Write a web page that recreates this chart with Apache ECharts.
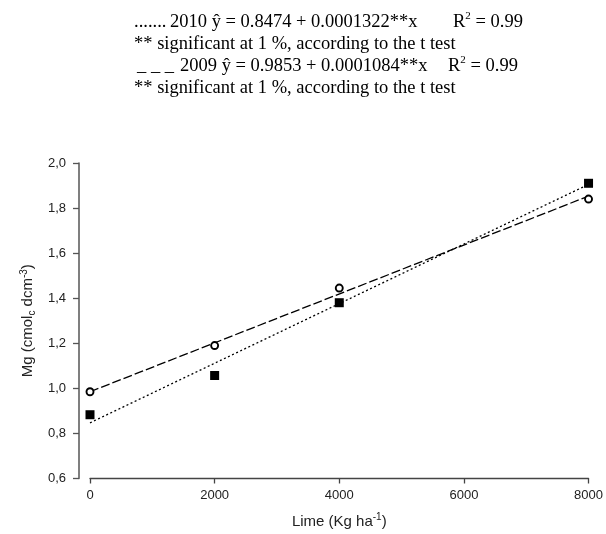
<!DOCTYPE html>
<html>
<head>
<meta charset="utf-8">
<script src="https://cdn.jsdelivr.net/npm/echarts@6/dist/echarts.min.js"></script>
<style>
html,body{margin:0;padding:0;background:#fff;}
#chart{width:606px;height:534px;}
</style>
</head>
<body>
<div id="chart"></div>
<script>
// Data
const doses = [0, 2000, 4000, 8000];
const mg2009 = [0.985, 1.19, 1.445, 1.84];
const mg2010 = [0.883, 1.057, 1.38, 1.91];
// regression lines (endpoints read from the equations / picture)
const fitX = [0, 8000];
const fit2009 = [0.985, 1.853];
const fit2010 = [0.847, 1.905];
// axis ticks
const yMin = 0.6, yMax = 2.0, yStep = 0.2;
const xMin = 0, xMax = 8000, xStep = 2000;

const pairs = (xs, ys) => xs.map((x, i) => [x, ys[i]]);

const serif = '"Liberation Serif", "Times New Roman", serif';
const sans = '"Liberation Sans", Arial, sans-serif';

const legRich = {
  n: { fontFamily: serif, fontSize: 18.5, lineHeight: 22, color: '#000' },
  sup: { fontFamily: serif, fontSize: 11, lineHeight: 11, verticalAlign: 'top', color: '#000' }
};
function legText(x, y, text) {
  return {
    type: 'text', x: x, y: y, silent: true,
    style: { text: text, rich: legRich, verticalAlign: 'middle', align: 'left' }
  };
}

const chart = echarts.init(document.getElementById('chart'), null, { renderer: 'canvas' });
chart.setOption({
  animation: false,
  backgroundColor: '#fff',
  grid: { left: 90, right: 17, top: 163, bottom: 55 },
  graphic: [
    legText(134, 22, '{n|.......}'),
    legText(170, 22, '{n|2010 ŷ = 0.8474 + 0.0001322**x}'),
    legText(453, 22, '{n|R}{sup|2}{n| = 0.99}'),
    legText(134, 44, '{n|** significant at 1 %, according to the t test}'),
    legText(137, 66, '{n|_ _ _}'),
    legText(180, 66, '{n|2009 ŷ = 0.9853 + 0.0001084**x}'),
    legText(448, 66, '{n|R}{sup|2}{n| = 0.99}'),
    legText(134, 88, '{n|** significant at 1 %, according to the t test}')
  ],
  xAxis: {
    type: 'value', min: xMin, max: xMax, interval: xStep,
    splitLine: { show: false },
    axisLine: { show: true, onZero: false, lineStyle: { color: '#444', width: 1.3 } },
    axisTick: { show: true, length: 5, lineStyle: { color: '#444', width: 1.3 } },
    axisLabel: { margin: 10, fontFamily: sans, fontSize: 13, color: '#222', formatter: v => String(v) },
    name: '{n|Lime (Kg ha}{sup|-1}{n|)}',
    nameLocation: 'middle', nameGap: 34,
    nameTextStyle: {
      rich: {
        n: { fontFamily: sans, fontSize: 15, lineHeight: 18, color: '#222' },
        sup: { fontFamily: sans, fontSize: 10, lineHeight: 10, verticalAlign: 'top', color: '#222' }
      }
    }
  },
  yAxis: {
    type: 'value', min: yMin, max: yMax, interval: yStep,
    offset: 11,
    splitLine: { show: false },
    axisLine: { show: true, onZero: false, lineStyle: { color: '#555', width: 1.5 } },
    axisTick: { show: true, length: 6, lineStyle: { color: '#555', width: 1.3 } },
    axisLabel: {
      margin: 13, fontFamily: sans, fontSize: 13, color: '#222',
      formatter: v => v.toFixed(1).replace('.', ',')
    },
    name: '{n|Mg (cmol}{sub|c}{n| dcm}{sup|-3}{n|)}',
    nameLocation: 'middle', nameGap: 35,
    nameTextStyle: {
      rich: {
        n: { fontFamily: sans, fontSize: 15, lineHeight: 18, color: '#222' },
        sup: { fontFamily: sans, fontSize: 10, lineHeight: 10, verticalAlign: 'top', color: '#222' },
        sub: { fontFamily: sans, fontSize: 10, lineHeight: 10, verticalAlign: 'bottom', color: '#222' }
      }
    }
  },
  series: [
    {
      name: 'fit2010', type: 'line', data: pairs(fitX, fit2010),
      symbol: 'none', silent: true, z: 2,
      lineStyle: { color: '#000', width: 1.3, type: [2, 2.5] }
    },
    {
      name: 'fit2009', type: 'line', data: pairs(fitX, fit2009),
      symbol: 'none', silent: true, z: 2,
      lineStyle: { color: '#000', width: 1.3, type: [9, 3] }
    },
    {
      name: '2010', type: 'scatter', data: pairs(doses, mg2010),
      symbol: 'rect', symbolSize: 9, z: 3,
      itemStyle: { color: '#000', opacity: 1 }
    },
    {
      name: '2009', type: 'scatter', data: pairs(doses, mg2009),
      symbol: 'circle', symbolSize: 7, z: 4,
      itemStyle: { color: '#fff', borderColor: '#000', borderWidth: 1.9, opacity: 1 }
    }
  ]
});
</script>
</body>
</html>
